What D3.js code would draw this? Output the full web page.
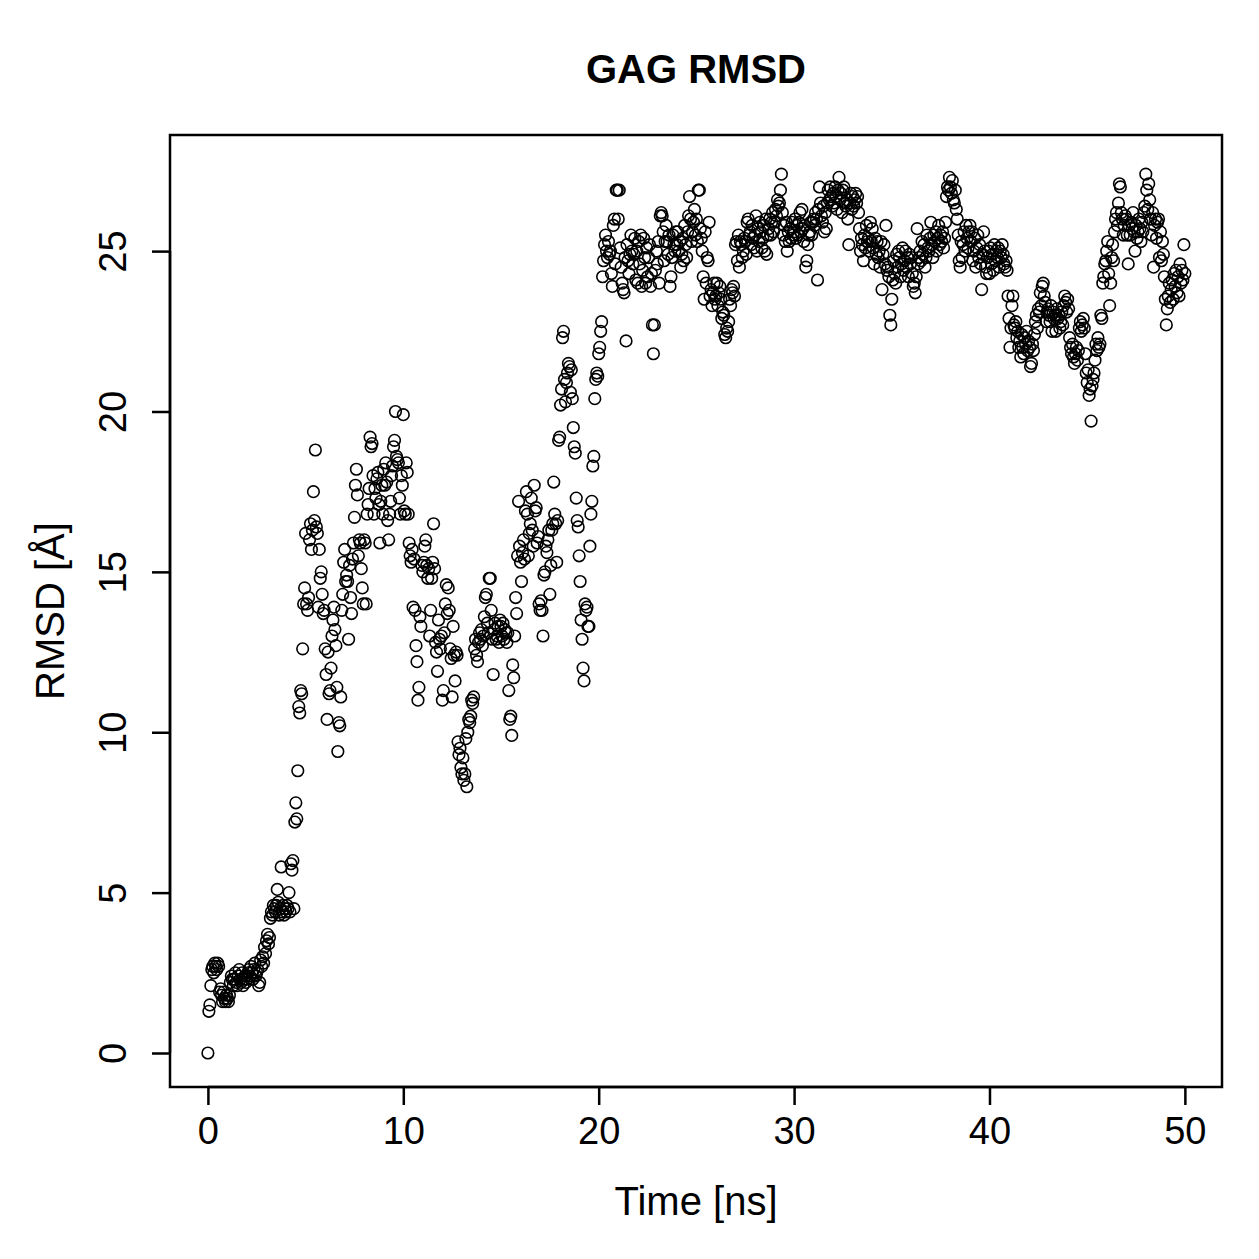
<!DOCTYPE html>
<html>
<head>
<meta charset="utf-8">
<script src="https://cdn.jsdelivr.net/npm/d3@7"></script>
<style>
  body { margin: 0; background: #fff; }
  text { font-family: "Liberation Sans", Arial, Helvetica, sans-serif; fill: #000; }
</style>
</head>
<body>
<div id="chart"></div>
<script>
var svgWidth = 1259;
var svgHeight = 1259;

// sampled every 0.05 ns, one row per nanosecond
var timeStep = 0.05;
var rmsd = [
  0.0, 1.3, 1.5, 2.1, 2.6, 2.7, 2.5, 2.8, 2.7, 2.6, 2.8, 2.7, 1.9, 2.0, 1.8, 1.6, 1.9, 1.7, 1.6, 1.8,
  1.7, 1.6, 1.8, 2.2, 2.4, 2.3, 2.1, 2.3, 2.5, 2.2, 2.1, 2.4, 2.6, 2.3, 2.2, 2.5, 2.1, 2.3, 2.4, 2.2,
  2.3, 2.5, 2.6, 2.4, 2.7, 2.5, 2.3, 2.6, 2.8, 2.4, 2.5, 2.6, 2.1, 2.2, 2.9, 2.7, 3.0, 2.8, 3.3, 3.1,
  3.5, 3.7, 3.4, 3.6, 4.2, 4.4, 4.3, 4.6, 4.5, 4.4, 4.6, 5.1, 4.7, 4.3, 4.5, 5.8, 4.4, 4.6, 4.3, 4.5,
  4.4, 4.6, 4.5, 5.0, 4.4, 5.9, 5.7, 6.0, 4.5, 7.2, 7.8, 7.3, 8.8, 10.8, 10.6, 11.3, 11.2, 12.6, 14.0, 14.5,
  16.2, 14.0, 13.8, 14.2, 16.0, 16.5, 15.7, 16.3, 17.5, 16.6, 18.8, 16.4, 16.2, 13.9, 15.7, 14.8, 15.0, 14.3, 13.7, 13.8,
  12.6, 11.8, 10.4, 12.5, 11.2, 11.3, 12.0, 13.0, 13.5, 13.9, 13.2, 12.7, 11.4, 9.4, 10.3, 10.2, 11.1, 13.8, 14.3, 15.3,
  15.7, 14.7, 14.9, 14.7, 12.9, 15.2, 14.2, 13.7, 15.4, 15.9, 16.7, 17.7, 18.2, 17.4, 15.5, 16.0, 15.9, 15.1, 14.5, 14.0,
  16.0, 15.9, 14.0, 16.8, 17.1, 17.6, 19.2, 18.9, 19.0, 18.0, 16.8, 17.6, 17.3, 17.9, 18.1, 17.1, 15.9, 17.2, 17.7, 16.8,
  18.2, 17.7, 18.4, 17.8, 16.6, 16.0, 16.8, 17.2, 18.0, 18.3, 18.9, 19.1, 20.0, 18.6, 18.5, 18.4, 17.3, 16.8, 18.0, 17.7,
  19.9, 16.9, 16.8, 18.4, 18.1, 16.8, 15.9, 15.5, 15.3, 15.7, 13.9, 15.4, 13.8, 12.7, 12.2, 11.0, 11.4, 13.6, 13.3, 15.2,
  15.0, 15.3, 15.8, 16.0, 15.2, 14.8, 15.1, 13.0, 13.8, 14.8, 15.3, 16.5, 15.1, 12.8, 12.5, 11.9, 13.5, 12.9, 12.6, 13.0,
  11.0, 11.3, 13.1, 14.0, 14.6, 13.7, 14.5, 13.8, 12.6, 12.3, 11.1, 13.3, 12.4, 11.6, 12.5, 12.4, 9.7, 9.3, 9.5, 8.9,
  8.7, 9.2, 8.5, 8.7, 9.8, 8.3, 10.0, 10.4, 10.3, 10.5, 11.0, 10.9, 11.1, 12.6, 12.9, 12.4, 12.2, 12.8, 13.1, 12.9,
  13.2, 12.7, 13.0, 13.6, 14.2, 14.3, 13.4, 13.1, 14.8, 14.8, 13.8, 12.9, 11.8, 13.2, 13.4, 12.9, 13.0, 13.3, 12.8, 13.5,
  13.3, 13.0, 13.4, 12.9, 13.2, 13.1, 12.8, 13.1, 11.3, 10.4, 10.5, 9.9, 12.1, 11.7, 13.0, 14.2, 13.7, 15.5, 17.2, 15.8,
  15.3, 14.7, 15.6, 16.0, 15.4, 16.9, 17.5, 16.8, 15.5, 16.2, 16.5, 17.3, 16.3, 15.8, 17.7, 16.9, 17.0, 15.9, 16.1, 14.0,
  13.8, 14.1, 13.8, 13.0, 14.9, 15.0, 15.8, 15.6, 16.0, 16.3, 14.3, 15.2, 16.3, 16.5, 17.8, 16.8, 16.5, 15.3, 16.6, 19.1,
  19.2, 20.2, 20.7, 22.3, 22.5, 21.0, 20.3, 20.9, 21.2, 21.5, 21.4, 20.6, 21.3, 20.4, 19.5, 18.9, 18.7, 17.3, 16.6, 16.4,
  15.5, 14.7, 13.5, 12.9, 12.0, 11.6, 14.0, 13.8, 13.9, 13.3, 13.3, 15.8, 16.8, 17.2, 18.3, 18.6, 20.4, 21.0, 21.2, 21.1,
  21.8, 22.0, 22.5, 22.8, 24.2, 24.7, 25.2, 25.5, 25.0, 24.8, 25.3, 24.9, 25.0, 24.3, 23.9, 25.8, 26.0, 24.6, 26.9, 26.9,
  26.0, 26.9, 25.1, 24.5, 24.0, 23.8, 23.7, 24.8, 22.2, 25.2, 24.7, 24.3, 24.9, 25.5, 25.0, 24.6, 24.9, 25.4, 24.1, 25.0,
  24.0, 25.3, 24.6, 25.5, 23.9, 24.4, 25.4, 24.8, 24.0, 25.1, 24.2, 24.8, 25.2, 23.9, 24.3, 22.7, 21.8, 22.7, 24.4, 25.0,
  24.6, 25.3, 24.0, 26.1, 26.2, 26.1, 25.6, 24.7, 25.3, 25.8, 25.3, 24.9, 25.5, 23.9, 24.2, 24.8, 25.5, 25.2, 25.0, 25.6,
  25.2, 25.6, 25.0, 25.3, 24.5, 24.9, 25.4, 24.7, 25.8, 25.2, 24.8, 25.6, 26.1, 26.7, 26.0, 25.3, 25.6, 25.9, 26.3, 25.5,
  26.0, 25.3, 26.9, 26.9, 25.7, 25.4, 25.0, 24.2, 23.5, 25.6, 24.0, 24.8, 24.7, 25.9, 23.6, 23.8, 23.3, 23.7, 24.0, 23.5,
  23.6, 24.0, 23.3, 23.7, 23.9, 23.5, 22.9, 23.1, 23.0, 22.4, 22.3, 22.6, 22.5, 22.8, 23.5, 23.3, 23.8, 23.7, 23.9, 23.6,
  25.2, 25.3, 24.7, 25.5, 24.5, 25.3, 25.2, 24.8, 25.0, 25.4, 25.3, 24.9, 25.9, 26.0, 25.5, 25.6, 25.2, 25.8, 25.4, 25.1,
  25.5, 26.1, 25.0, 25.7, 25.3, 25.9, 25.6, 25.1, 25.4, 25.8, 25.0, 26.0, 24.9, 25.5, 25.7, 26.0, 25.5, 25.9, 26.2, 25.6,
  25.9, 26.3, 26.1, 26.6, 26.4, 26.5, 26.9, 27.4, 26.2, 25.5, 25.8, 25.3, 25.9, 25.0, 25.6, 25.3, 25.7, 25.4, 25.9, 25.5,
  25.6, 26.0, 25.4, 25.8, 25.5, 25.9, 26.2, 25.6, 26.3, 25.7, 25.3, 25.8, 24.5, 24.7, 25.2, 25.5, 25.6, 25.9, 25.5, 25.9,
  26.0, 25.8, 26.2, 26.0, 24.1, 26.3, 27.0, 26.5, 26.1, 25.9, 26.4, 25.6, 26.2, 25.7, 26.5, 26.9, 26.6, 27.0, 26.7, 26.4,
  26.8, 26.5, 27.0, 26.7, 26.3, 26.9, 27.3, 26.6, 26.8, 26.2, 26.9, 27.0, 26.5, 26.4, 26.6, 26.0, 25.2, 26.5, 26.8, 26.3,
  26.7, 26.4, 26.6, 26.8, 26.5, 26.7, 26.2, 25.7, 25.0, 25.4, 25.2, 24.7, 25.5, 25.1, 25.8, 25.3, 25.4, 25.0, 25.9, 25.3,
  25.7, 25.1, 24.6, 25.4, 24.9, 25.3, 24.8, 25.0, 24.5, 25.3, 23.8, 24.9, 25.2, 24.6, 25.8, 24.4, 24.5, 24.2, 23.0, 22.7,
  23.5, 24.1, 24.7, 24.3, 24.0, 24.9, 24.5, 25.0, 24.8, 24.2, 24.6, 25.1, 24.4, 24.7, 25.0, 24.5, 24.8, 24.2, 24.9, 24.6,
  24.8, 24.3, 23.9, 24.0, 23.7, 24.2, 25.7, 24.6, 24.8, 25.0, 24.7, 25.3, 24.9, 25.2, 24.5, 24.8, 25.5, 25.1, 25.0, 25.4,
  25.9, 25.2, 24.8, 25.5, 25.3, 25.6, 25.0, 25.4, 25.8, 25.2, 25.5, 25.3, 25.6, 25.1, 25.4, 25.9, 26.7, 27.0, 26.9, 27.3,
  27.0, 26.8, 27.2, 26.6, 26.5, 26.9, 26.3, 26.0, 25.5, 24.7, 24.5, 25.3, 24.8, 25.2, 25.6, 25.0, 25.8, 25.4, 25.1, 25.6,
  25.8, 25.3, 25.6, 24.7, 25.0, 25.4, 24.5, 25.1, 25.5, 24.8, 25.2, 24.6, 23.8, 24.9, 25.6, 25.0, 24.5, 24.3, 24.8, 25.0,
  24.3, 25.1, 24.6, 24.9, 24.4, 25.2, 24.7, 25.0, 24.8, 25.1, 24.5, 25.0, 24.8, 25.2, 24.9, 24.6, 24.5, 24.7, 24.4, 23.6,
  22.9, 22.0, 22.6, 23.3, 23.6, 22.7, 22.6, 22.8, 22.3, 22.5, 22.0, 22.2, 21.7, 22.4, 22.0, 21.8, 22.3, 22.1, 22.5, 21.9,
  22.2, 22.0, 21.4, 21.5, 22.1, 21.9, 22.4, 22.8, 23.0, 22.6, 23.2, 23.1, 23.7, 23.3, 23.9, 24.0, 23.6, 23.4, 22.8, 23.1,
  23.2, 23.0, 22.8, 23.3, 22.5, 23.1, 22.9, 23.0, 22.5, 23.2, 22.9, 23.0, 22.6, 22.8, 23.1, 22.7, 23.3, 23.6, 23.4, 23.1,
  23.5, 23.2, 22.3, 22.0, 21.8, 22.1, 21.7, 21.5, 21.8, 22.0, 21.6, 21.9, 22.6, 22.8, 22.5, 22.7, 22.9, 22.6, 21.8, 21.2,
  20.9, 21.3, 20.5, 20.7, 19.7, 20.8, 21.0, 21.2, 21.6, 22.1, 21.9, 22.3, 22.0, 22.1, 23.0, 22.9, 24.0, 24.2, 24.6, 24.7,
  25.0, 25.3, 24.3, 23.3, 24.0, 24.8, 25.2, 24.7, 25.6, 26.0, 26.2, 25.8, 26.5, 27.1, 27.0, 26.2, 26.0, 25.5, 25.8, 26.1,
  26.0, 25.5, 24.6, 25.8, 25.5, 25.9, 25.7, 26.2, 25.6, 25.0, 25.8, 25.4, 25.6, 26.0, 25.7, 25.3, 25.9, 25.6, 26.2, 26.4,
  27.4, 26.9, 26.3, 27.1, 26.6, 26.0, 25.5, 26.2, 24.5, 25.8, 26.0, 25.4, 25.9, 26.0, 24.8, 25.6, 24.7, 25.3, 24.9, 24.2,
  23.5, 22.7, 23.2, 23.6, 24.0, 23.4, 23.8, 24.1, 23.5, 24.3, 23.9, 24.4, 23.7, 24.2, 23.6, 24.6, 24.0, 24.4, 24.1, 25.2,
  24.3
];

var xTicks = [0, 10, 20, 30, 40, 50];
var yTicks = [0, 5, 10, 15, 20, 25];

var data = rmsd.map(function (v, i) {
    return { time: i * timeStep, rmsd: v };
});

// plot region box
var box = { left: 170, right: 1222, top: 135, bottom: 1087 };

var xScale = d3.scaleLinear()
    .domain([-1.94, 51.9])
    .range([box.left, box.right]);

var yScale = d3.scaleLinear()
    .domain([-1.06, 28.62])
    .range([box.bottom, box.top]);

var svg = d3.select("#chart")
    .append("svg")
    .attr("width", svgWidth)
    .attr("height", svgHeight);

// points
svg.append("g")
    .selectAll("circle")
    .data(data)
    .enter()
    .append("circle")
    .attr("cx", d => xScale(d.time))
    .attr("cy", d => yScale(d.rmsd))
    .attr("r", 5.8)
    .attr("fill", "none")
    .attr("stroke", "#000")
    .attr("stroke-width", 1.6);

// axes
var bottomAxis = d3.axisBottom(xScale)
    .tickValues(xTicks)
    .tickSize(18)
    .tickPadding(10)
    .tickSizeOuter(0);

var leftAxis = d3.axisLeft(yScale)
    .tickValues(yTicks)
    .tickSize(18)
    .tickPadding(12)
    .tickSizeOuter(0);

var gx = svg.append("g")
    .attr("transform", `translate(0, ${box.bottom})`)
    .call(bottomAxis);

var gy = svg.append("g")
    .attr("transform", `translate(${box.left}, 0)`)
    .call(leftAxis);

gx.select(".domain")
    .attr("d", `M${xScale(xTicks[0])},0H${xScale(xTicks[xTicks.length - 1])}`);
gy.select(".domain")
    .attr("d", `M0,${yScale(yTicks[0])}V${yScale(yTicks[yTicks.length - 1])}`);

[gx, gy].forEach(function (g) {
    g.selectAll("path, line")
        .attr("stroke", "#000")
        .attr("stroke-width", 2.5);
    g.selectAll("text")
        .attr("font-size", 38)
        .attr("font-family", "Liberation Sans, Arial, sans-serif")
        .attr("fill", "#000");
});

gx.selectAll(".tick text").attr("dy", "0.75em");

// rotated y tick labels like R's default
gy.selectAll(".tick text")
    .attr("x", null)
    .attr("dy", null)
    .attr("text-anchor", "middle")
    .attr("transform", "translate(-44, 0) rotate(-90)");

// box round the plot region
svg.append("rect")
    .attr("x", box.left)
    .attr("y", box.top)
    .attr("width", box.right - box.left)
    .attr("height", box.bottom - box.top)
    .attr("fill", "none")
    .attr("stroke", "#000")
    .attr("stroke-width", 2.5);

// title and axis labels
svg.append("text")
    .attr("x", (box.left + box.right) / 2)
    .attr("y", 83)
    .attr("text-anchor", "middle")
    .attr("font-size", 40)
    .attr("font-weight", "bold")
    .text("GAG RMSD");

svg.append("text")
    .attr("x", (box.left + box.right) / 2)
    .attr("y", 1215)
    .attr("text-anchor", "middle")
    .attr("font-size", 40)
    .text("Time [ns]");

svg.append("text")
    .attr("transform", `translate(64, ${(box.top + box.bottom) / 2}) rotate(-90)`)
    .attr("text-anchor", "middle")
    .attr("font-size", 40)
    .text("RMSD [Å]");
</script>
</body>
</html>
